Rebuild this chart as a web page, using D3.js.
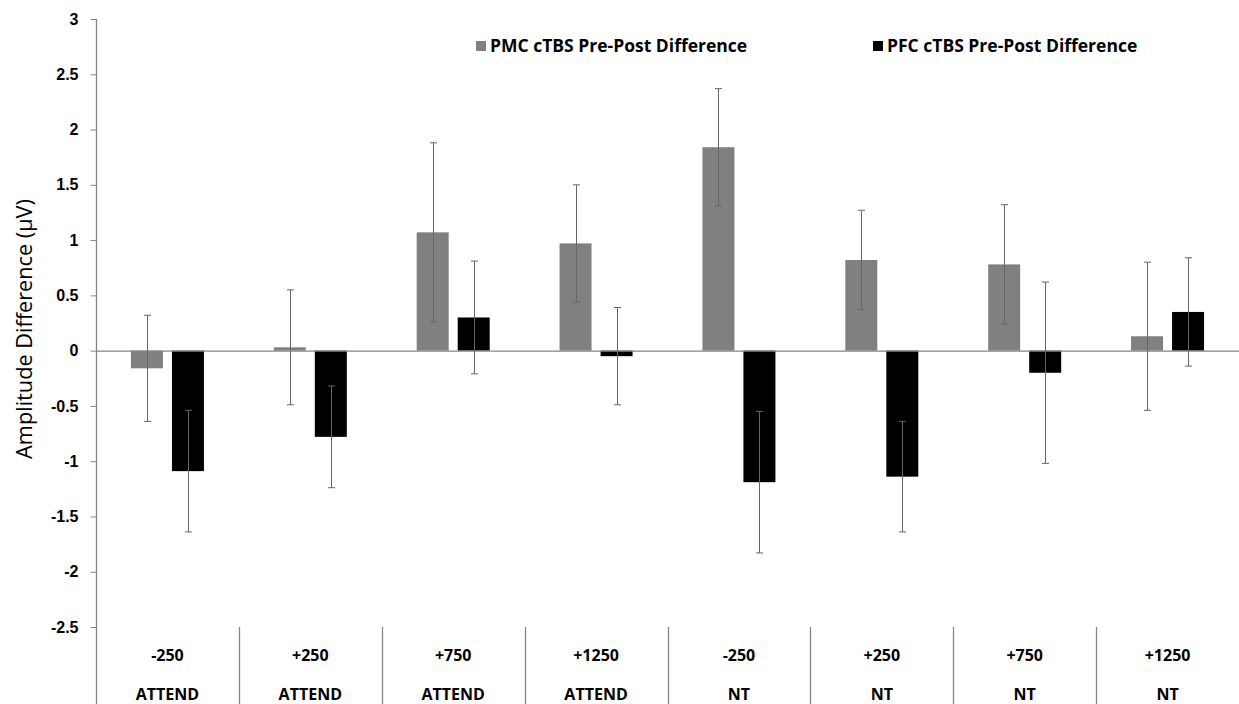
<!DOCTYPE html>
<html>
<head>
<meta charset="utf-8">
<script src="https://cdn.jsdelivr.net/npm/d3@7"></script>
<style>
  body { margin: 0; background: #fff; }
  svg { display: block; font-family: "Open Sans", Lato, sans-serif; }
</style>
</head>
<body>
<div class="chart"></div>
<script>
// data
const timings = ["-250", "+250", "+750", "+1250", "-250", "+250", "+750", "+1250"];
const conditions = ["ATTEND", "ATTEND", "ATTEND", "ATTEND", "NT", "NT", "NT", "NT"];
const seriesNames = ["PMC cTBS Pre-Post Difference", "PFC cTBS Pre-Post Difference"];
const pmcValues = [-0.16, 0.03, 1.07, 0.97, 1.84, 0.82, 0.78, 0.13];
const pmcErrors = [0.48, 0.52, 0.81, 0.53, 0.53, 0.45, 0.54, 0.67];
const pfcValues = [-1.09, -0.78, 0.30, -0.05, -1.19, -1.14, -0.20, 0.35];
const pfcErrors = [0.55, 0.46, 0.51, 0.44, 0.64, 0.50, 0.82, 0.49];
const yTicks = [3, 2.5, 2, 1.5, 1, 0.5, 0, -0.5, -1, -1.5, -2, -2.5];

const W = 1239, H = 704;
const margin = {top: 19, left: 96, right: 0, bottom: 77};
const plotBottom = H - margin.bottom; // -2.5 line

const svg = d3.select(".chart").append("svg")
  .attr("width", W).attr("height", H);

const groups = d3.range(timings.length);
const x0 = d3.scaleBand().domain(groups).range([margin.left, W - margin.right]);
const pairW = 73;
const x1 = d3.scaleBand().domain([0, 1])
  .range([x0.bandwidth() / 2 - pairW / 2, x0.bandwidth() / 2 + pairW / 2])
  .paddingInner(0.22);
const y = d3.scaleLinear().domain([-2.5, 3]).range([plotBottom, margin.top]);

const colors = ["#808080", "#000000"];
const axisColor = "#868686";

// bars
const rows = [];
groups.forEach(i => {
  rows.push({g: i, s: 0, v: pmcValues[i], e: pmcErrors[i]});
  rows.push({g: i, s: 1, v: pfcValues[i], e: pfcErrors[i]});
});

svg.append("g").selectAll("rect")
  .data(rows)
  .join("rect")
    .attr("x", d => x0(d.g) + x1(d.s))
    .attr("y", d => y(Math.max(0, d.v)))
    .attr("width", x1.bandwidth())
    .attr("height", d => Math.abs(y(d.v) - y(0)))
    .attr("fill", d => colors[d.s]);

// zero line
svg.append("line")
  .attr("x1", margin.left).attr("x2", W - margin.right)
  .attr("y1", y(0) + 0.5).attr("y2", y(0) + 0.5)
  .attr("stroke", axisColor).attr("stroke-width", 1.3);

// error bars
const err = svg.append("g").attr("stroke", "#666").attr("stroke-width", 1);
rows.forEach(d => {
  const cx = Math.round(x0(d.g) + x1(d.s) + x1.bandwidth() / 2) + 0.5;
  const top = y(d.v + d.e), bot = y(d.v - d.e);
  err.append("line").attr("x1", cx).attr("x2", cx).attr("y1", top).attr("y2", bot);
  err.append("line").attr("x1", cx - 3.5).attr("x2", cx + 3.5).attr("y1", top).attr("y2", top);
  err.append("line").attr("x1", cx - 3.5).attr("x2", cx + 3.5).attr("y1", bot).attr("y2", bot);
});

// y axis (hyphen minus like the original)
const yAxis = d3.axisLeft(y).tickValues(yTicks).tickSize(6).tickPadding(12)
  .tickFormat(d => String(d));
const yG = svg.append("g")
  .attr("transform", `translate(${margin.left + 0.5},0)`)
  .call(yAxis);
yG.select(".domain").remove();
yG.selectAll(".tick line").attr("stroke", axisColor);
yG.selectAll(".tick text")
  .attr("fill", "#000").style("font-size", "16px").style("font-weight", "bold");
svg.append("line")
  .attr("x1", margin.left + 0.5).attr("x2", margin.left + 0.5)
  .attr("y1", margin.top).attr("y2", H)
  .attr("stroke", axisColor).attr("stroke-width", 1.3);

svg.append("text")
  .attr("transform", `translate(32,329) rotate(-90)`)
  .attr("text-anchor", "middle")
  .style("font-size", "21.7px")
  .attr("fill", "#000")
  .text("Amplitude Difference (µV)");

// category labels and separators
groups.slice(1).forEach(i => {
  svg.append("line")
    .attr("x1", Math.round(x0(i)) + 0.5).attr("x2", Math.round(x0(i)) + 0.5)
    .attr("y1", plotBottom).attr("y2", H)
    .attr("stroke", axisColor).attr("stroke-width", 1.3);
});
const labG = svg.append("g").attr("text-anchor", "middle")
  .style("font-size", "16px").style("font-weight", "bold");
groups.forEach(i => {
  const cx = x0(i) + x0.bandwidth() / 2;
  labG.append("text").attr("x", cx).attr("y", 661).text(timings[i]);
  labG.append("text").attr("x", cx).attr("y", 700).text(conditions[i]);
});

// legend
const legendX = [476, 873];
seriesNames.forEach((name, i) => {
  svg.append("rect")
    .attr("x", legendX[i]).attr("y", 41).attr("width", 10).attr("height", 10)
    .attr("fill", colors[i]);
  svg.append("text")
    .attr("x", legendX[i] + 14).attr("y", 52)
    .style("font-size", "17.5px").style("font-weight", "bold")
    .text(name);
});
</script>
</body>
</html>
